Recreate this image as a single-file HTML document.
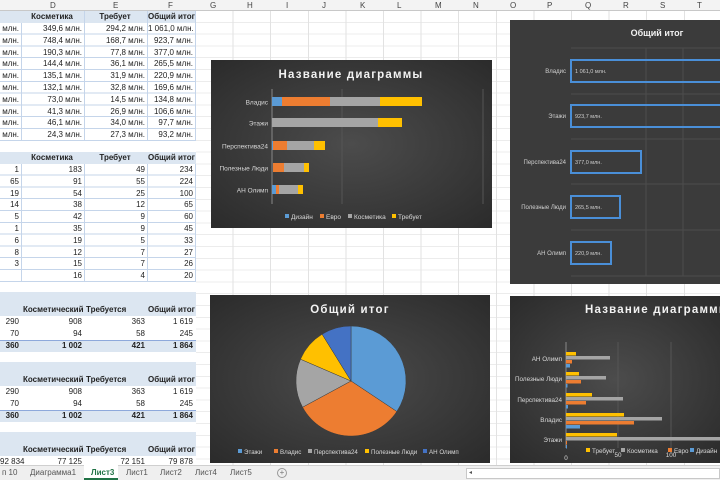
<!DOCTYPE html>
<html><head><meta charset="utf-8"><style>
*{margin:0;padding:0;box-sizing:border-box}
body{width:720px;height:480px;overflow:hidden;position:relative;background:#fff;font-family:"Liberation Sans","DejaVu Sans",sans-serif;font-size:8px;color:#222}
.grid{position:absolute;left:196px;top:11px;width:524px;height:454px;
background-image:repeating-linear-gradient(to right,transparent 0,transparent 36.6px,#e2e2e2 36.6px,#e2e2e2 37.6px),repeating-linear-gradient(to bottom,transparent 0,transparent 10.8px,#ececec 10.8px,#ececec 11.8px)}
.colhdr{position:absolute;left:0;top:0;width:720px;height:11px;background:#f3f3f3;border-bottom:1px solid #c8c8c8}
.colhdr span{position:absolute;top:1px;font-size:8px;color:#444;text-align:center}
.c{position:absolute;height:12px;line-height:12px;text-align:right;white-space:nowrap;padding-right:2px;font-size:8px}
.b{font-weight:bold}
.hb{background:#dce6f1}
.tabs{position:absolute;left:0;top:465px;width:720px;height:15px;background:#efefef;border-top:1px solid #cfcfcf}
.tabs span{position:absolute;top:2px;font-size:8px;color:#555}
.ch{position:absolute;overflow:hidden}
</style></head><body>
<div class="grid"></div>
<div class="colhdr">
<span style="left:50px">D</span><span style="left:113px">E</span><span style="left:168px">F</span>
<span style="left:210px">G</span><span style="left:247px">H</span><span style="left:286px">I</span><span style="left:322px">J</span><span style="left:360px">K</span><span style="left:397px">L</span><span style="left:435px">M</span><span style="left:473px">N</span><span style="left:510px">O</span><span style="left:547px">P</span><span style="left:585px">Q</span><span style="left:623px">R</span><span style="left:660px">S</span><span style="left:697px">T</span>
</div>

<!-- table 1 -->
<div style="position:absolute;left:0;top:11px;width:196px;height:130px;background-image:repeating-linear-gradient(to bottom,transparent 0,transparent 10.8px,#c5d5ea 10.8px,#c5d5ea 11.8px)"></div>
<div style="position:absolute;left:21px;top:11px;width:1px;height:130px;background:#c5d5ea"></div>
<div style="position:absolute;left:84px;top:11px;width:1px;height:130px;background:#c5d5ea"></div>
<div style="position:absolute;left:147px;top:11px;width:1px;height:130px;background:#c5d5ea"></div>
<div style="position:absolute;left:195px;top:11px;width:1px;height:130px;background:#c5d5ea"></div>
<div class="c b" style="left:22px;top:11px;width:62px;text-align:center;background:#dce6f1">Косметика</div>
<div class="c b" style="left:85px;top:11px;width:62px;text-align:center;background:#dce6f1">Требует</div>
<div class="c b" style="left:148px;top:11px;width:47px;text-align:center;background:#dce6f1">Общий итог</div>
<div style="position:absolute;left:0;top:11px;width:22px;height:12px;background:#dce6f1"></div>

<div id="t1"></div>
<div id="t2"></div>

<!-- table 2 -->
<div style="position:absolute;left:0;top:152px;width:196px;height:130px;background-image:repeating-linear-gradient(to bottom,transparent 0,transparent 10.8px,#c5d5ea 10.8px,#c5d5ea 11.8px)"></div>
<div style="position:absolute;left:21px;top:152px;width:1px;height:130px;background:#c5d5ea"></div>
<div style="position:absolute;left:84px;top:152px;width:1px;height:130px;background:#c5d5ea"></div>
<div style="position:absolute;left:147px;top:152px;width:1px;height:130px;background:#c5d5ea"></div>
<div style="position:absolute;left:195px;top:152px;width:1px;height:130px;background:#c5d5ea"></div>
<div style="position:absolute;left:0;top:152px;width:196px;height:12px;background:#dce6f1"></div>
<div class="c b" style="left:22px;top:152px;width:62px;text-align:center">Косметика</div>
<div class="c b" style="left:85px;top:152px;width:62px;text-align:center">Требует</div>
<div class="c b" style="left:148px;top:152px;width:47px;text-align:center">Общий итог</div>

<!-- pivot tables -->
<div style="position:absolute;left:0;top:292px;width:196px;height:24px;background:#dce6f1"></div>
<div style="position:absolute;left:0;top:340px;width:196px;height:12px;background:#dce6f1;border-top:1px solid #8ea9db"></div>
<div style="position:absolute;left:0;top:362px;width:196px;height:24px;background:#dce6f1"></div>
<div style="position:absolute;left:0;top:410px;width:196px;height:12px;background:#dce6f1;border-top:1px solid #8ea9db"></div>
<div style="position:absolute;left:0;top:432px;width:196px;height:24px;background:#dce6f1"></div>

<!-- Chart 1 -->
<svg class="ch" style="left:211px;top:60px" width="281" height="168" viewBox="0 0 281 168">
<defs><radialGradient id="g1" cx="50%" cy="50%" r="70%"><stop offset="0" stop-color="#4c4c4c"/><stop offset="1" stop-color="#2b2b2b"/></radialGradient></defs>
<rect width="281" height="168" fill="url(#g1)"/>
<text x="140" y="18" fill="#f2f2f2" font-size="11.5" font-weight="bold" text-anchor="middle" letter-spacing="1.2" font-family="Liberation Sans">Название диаграммы</text>
<line x1="131" y1="29" x2="131" y2="144" stroke="#555"/><line x1="272" y1="29" x2="272" y2="144" stroke="#555"/>
<line x1="61" y1="29" x2="61" y2="144" stroke="#888"/>
<g font-size="6.5" fill="#d9d9d9" text-anchor="end" font-family="Liberation Sans">
<text x="57" y="44.5">Владис</text><text x="57" y="65.5">Этажи</text><text x="57" y="88.5">Перспектива24</text><text x="57" y="110.5">Полезные Люди</text><text x="57" y="132.5">АН Олимп</text></g>
<g>
<rect x="61" y="37" width="10" height="9" fill="#5b9bd5"/><rect x="71" y="37" width="48" height="9" fill="#ed7d31"/><rect x="119" y="37" width="50" height="9" fill="#a5a5a5"/><rect x="169" y="37" width="42" height="9" fill="#ffc000"/>
<rect x="61" y="58" width="106" height="9" fill="#a5a5a5"/><rect x="167" y="58" width="24" height="9" fill="#ffc000"/>
<rect x="61" y="81" width="1" height="9" fill="#5b9bd5"/><rect x="62" y="81" width="14" height="9" fill="#ed7d31"/><rect x="76" y="81" width="27" height="9" fill="#a5a5a5"/><rect x="103" y="81" width="11" height="9" fill="#ffc000"/>
<rect x="62" y="103" width="11" height="9" fill="#ed7d31"/><rect x="73" y="103" width="20" height="9" fill="#a5a5a5"/><rect x="93" y="103" width="5" height="9" fill="#ffc000"/>
<rect x="61" y="125" width="4" height="9" fill="#5b9bd5"/><rect x="65" y="125" width="3" height="9" fill="#ed7d31"/><rect x="68" y="125" width="19" height="9" fill="#a5a5a5"/><rect x="87" y="125" width="5" height="9" fill="#ffc000"/>
</g>
<g font-size="6.5" fill="#d9d9d9" font-family="Liberation Sans">
<rect x="74" y="154" width="4" height="4" fill="#5b9bd5"/><text x="80" y="159">Дизайн</text>
<rect x="109" y="154" width="4" height="4" fill="#ed7d31"/><text x="115" y="159">Евро</text>
<rect x="137" y="154" width="4" height="4" fill="#a5a5a5"/><text x="143" y="159">Косметика</text>
<rect x="181" y="154" width="4" height="4" fill="#ffc000"/><text x="187" y="159">Требует</text></g>
</svg>

<!-- Chart 2 -->
<svg class="ch" style="left:510px;top:20px" width="210" height="264" viewBox="0 0 210 264">
<rect width="210" height="264" fill="#3b3b3b"/>
<text x="147" y="16" fill="#f2f2f2" font-size="9" font-weight="bold" text-anchor="middle" font-family="Liberation Sans">Общий итог</text>
<g stroke="#4d4d4d"><line x1="136" y1="28" x2="136" y2="256"/><line x1="173" y1="28" x2="173" y2="256"/>
<line x1="61" y1="28" x2="210" y2="28"/><line x1="61" y1="74" x2="210" y2="74"/><line x1="61" y1="119" x2="210" y2="119"/><line x1="61" y1="164" x2="210" y2="164"/><line x1="61" y1="210" x2="210" y2="210"/><line x1="61" y1="256" x2="210" y2="256"/></g>
<g font-size="6" fill="#d0d0d0" text-anchor="end" font-family="Liberation Sans">
<text x="56" y="53">Владис</text><text x="56" y="98">Этажи</text><text x="56" y="144">Перспектива24</text><text x="56" y="189">Полезные Люди</text><text x="56" y="235">АН Олимп</text></g>
<g fill="none" stroke="#4a8fd8" stroke-width="2">
<rect x="61" y="40" width="160" height="22"/><rect x="61" y="85" width="160" height="22"/><rect x="61" y="131" width="70" height="22"/><rect x="61" y="176" width="49" height="22"/><rect x="61" y="222" width="40" height="22"/></g>
<g font-size="5.5" fill="#cfcfcf" font-family="Liberation Sans">
<text x="65" y="53">1 061,0 млн.</text><text x="65" y="98">923,7 млн.</text><text x="65" y="144">377,0 млн.</text><text x="65" y="189">265,5 млн.</text><text x="65" y="235">220,9 млн.</text></g>
</svg>

<!-- Chart 3 pie -->
<svg class="ch" style="left:210px;top:295px" width="280" height="168" viewBox="0 0 280 168">
<defs><radialGradient id="g3" cx="50%" cy="50%" r="70%"><stop offset="0" stop-color="#4c4c4c"/><stop offset="1" stop-color="#2b2b2b"/></radialGradient></defs>
<rect width="280" height="168" fill="url(#g3)"/>
<text x="140" y="18" fill="#f2f2f2" font-size="11.5" font-weight="bold" text-anchor="middle" letter-spacing="1.2" font-family="Liberation Sans">Общий итог</text>
<g transform="translate(-210,-295)" stroke="#3a3a3a" stroke-width="0.5">
<path d="M351,381 L351,326 A55,55 0 0 1 396.8,411.5 Z" fill="#5b9bd5"/>
<path d="M351,381 L396.8,411.5 A55,55 0 0 1 302.6,407.2 Z" fill="#ed7d31"/>
<path d="M351,381 L302.6,407.2 A55,55 0 0 1 300.5,359.2 Z" fill="#a5a5a5"/>
<path d="M351,381 L300.5,359.2 A55,55 0 0 1 322.1,334.2 Z" fill="#ffc000"/>
<path d="M351,381 L322.1,334.2 A55,55 0 0 1 351,326 Z" fill="#4472c4"/>
</g>
<g font-size="6.2" fill="#d9d9d9" font-family="Liberation Sans">
<rect x="28" y="154" width="4" height="4" fill="#5b9bd5"/><text x="34" y="159">Этажи</text>
<rect x="64" y="154" width="4" height="4" fill="#ed7d31"/><text x="70" y="159">Владис</text>
<rect x="98" y="154" width="4" height="4" fill="#a5a5a5"/><text x="104" y="159">Перспектива24</text>
<rect x="155" y="154" width="4" height="4" fill="#ffc000"/><text x="161" y="159">Полезные Люди</text>
<rect x="213" y="154" width="4" height="4" fill="#4472c4"/><text x="219" y="159">АН Олимп</text></g>
</svg>

<!-- Chart 4 -->
<svg class="ch" style="left:510px;top:296px" width="210" height="167" viewBox="0 0 210 167">
<defs><radialGradient id="g4" cx="50%" cy="50%" r="70%"><stop offset="0" stop-color="#4c4c4c"/><stop offset="1" stop-color="#2b2b2b"/></radialGradient></defs>
<rect width="210" height="167" fill="url(#g4)"/>
<text x="75" y="17" fill="#f2f2f2" font-size="11.5" font-weight="bold" letter-spacing="1.2" font-family="Liberation Sans">Название диаграммы</text>
<g stroke="#555"><line x1="108" y1="46" x2="108" y2="152"/><line x1="161" y1="46" x2="161" y2="152"/></g>
<line x1="56" y1="46" x2="56" y2="152" stroke="#888"/>
<g font-size="6.3" fill="#d9d9d9" text-anchor="end" font-family="Liberation Sans">
<text x="52" y="65">АН Олимп</text><text x="52" y="85">Полезные Люди</text><text x="52" y="106">Перспектива24</text><text x="52" y="126">Владис</text><text x="52" y="146">Этажи</text></g>
<g>
<rect x="56" y="56" width="10" height="3.5" fill="#ffc000"/><rect x="56" y="60" width="44" height="3.5" fill="#a5a5a5"/><rect x="56" y="64" width="6" height="3.5" fill="#ed7d31"/><rect x="56" y="68" width="4" height="3.5" fill="#5b9bd5"/>
<rect x="56" y="76" width="13" height="3.5" fill="#ffc000"/><rect x="56" y="80" width="40" height="3.5" fill="#a5a5a5"/><rect x="56" y="84" width="15" height="3.5" fill="#ed7d31"/><rect x="56" y="88" width="1.5" height="3.5" fill="#5b9bd5"/>
<rect x="56" y="97" width="26" height="3.5" fill="#ffc000"/><rect x="56" y="101" width="57" height="3.5" fill="#a5a5a5"/><rect x="56" y="105" width="20" height="3.5" fill="#ed7d31"/><rect x="56" y="109" width="2" height="3.5" fill="#5b9bd5"/>
<rect x="56" y="117" width="58" height="3.5" fill="#ffc000"/><rect x="56" y="121" width="96" height="3.5" fill="#a5a5a5"/><rect x="56" y="125" width="68" height="3.5" fill="#ed7d31"/><rect x="56" y="129" width="14" height="3.5" fill="#5b9bd5"/>
<rect x="56" y="137" width="51" height="3.5" fill="#ffc000"/><rect x="56" y="141" width="160" height="3.5" fill="#a5a5a5"/><rect x="56" y="145" width="1" height="3.5" fill="#ed7d31"/><rect x="56" y="149" width="1" height="3.5" fill="#5b9bd5"/>
</g>
<g font-size="6.3" fill="#d9d9d9" font-family="Liberation Sans">
<rect x="76" y="152" width="4" height="4" fill="#ffc000"/><text x="82" y="157">Требует</text>
<rect x="111" y="152" width="4" height="4" fill="#a5a5a5"/><text x="117" y="157">Косметика</text>
<rect x="158" y="152" width="4" height="4" fill="#ed7d31"/><text x="164" y="157">Евро</text>
<rect x="180" y="152" width="4" height="4" fill="#5b9bd5"/><text x="186" y="157">Дизайн</text>
<text x="56" y="164" text-anchor="middle">0</text><text x="108" y="161" text-anchor="middle">50</text><text x="161" y="161" text-anchor="middle">100</text><text x="210" y="161">1</text></g>
</svg>

<div class="tabs">
<span style="left:2px">п 10</span>
<span style="left:30px">Диаграмма1</span>
<div style="position:absolute;left:84px;top:-1px;width:34px;height:15px;background:#fff;border-bottom:2px solid #217346"></div>
<span style="left:91px;color:#217346;font-weight:bold">Лист3</span>
<span style="left:126px">Лист1</span>
<span style="left:160px">Лист2</span>
<span style="left:195px">Лист4</span>
<span style="left:230px">Лист5</span>
<div style="position:absolute;left:277px;top:2px;width:10px;height:10px;border:1px solid #999;border-radius:50%;font-size:8px;line-height:8px;text-align:center;color:#777">+</div>
<div style="position:absolute;left:466px;top:2px;width:254px;height:11px;background:#fff;border:1px solid #c8c8c8"></div>
<span style="left:469px;top:3px;font-size:6px">◂</span>
</div>

<script>
function put(x,y,w,t,cls){var d=document.createElement('div');d.className='c'+(cls?' '+cls:'');d.style.left=x+'px';d.style.top=y+'px';d.style.width=w+'px';d.textContent=t;document.body.appendChild(d);}
var t1=[["349,6 млн.","294,2 млн.","1 061,0 млн."],["748,4 млн.","168,7 млн.","923,7 млн."],["190,3 млн.","77,8 млн.","377,0 млн."],["144,4 млн.","36,1 млн.","265,5 млн."],["135,1 млн.","31,9 млн.","220,9 млн."],["132,1 млн.","32,8 млн.","169,6 млн."],["73,0 млн.","14,5 млн.","134,8 млн."],["41,3 млн.","26,9 млн.","106,6 млн."],["46,1 млн.","34,0 млн.","97,7 млн."],["24,3 млн.","27,3 млн.","93,2 млн."]];
t1.forEach(function(r,i){var y=23+i*11.8;put(-5,y,26,"млн.");put(22,y,62,r[0]);put(85,y,62,r[1]);put(148,y,47,r[2]);});
var t2=[["1","183","49","234"],["65","91","55","224"],["19","54","25","100"],["14","38","12","65"],["5","42","9","60"],["1","35","9","45"],["6","19","5","33"],["8","12","7","27"],["3","15","7","26"],["","16","4","20"]];
t2.forEach(function(r,i){var y=164+i*11.8;put(0,y,21,r[0]);put(22,y,62,r[1]);put(85,y,62,r[2]);put(148,y,47,r[3]);});
function piv(top,rows){put(22,top,62,"Косметический","b");var h=document.body.lastChild;h.style.textAlign='left';h.style.paddingLeft='1px';
put(85,top,62,"Требуется","b");h=document.body.lastChild;h.style.textAlign='left';h.style.paddingLeft='1px';
put(148,top,47,"Общий итог","b");
rows.forEach(function(r,i){var y=top+12+i*12;var c=r[4]?'b':'';put(0,y,21,r[0],c);put(22,y,62,r[1],c);put(85,y,62,r[2],c);put(148,y,47,r[3],c);});}
piv(304,[["290","908","363","1 619"],["70","94","58","245"],["360","1 002","421","1 864",1]]);
piv(374,[["290","908","363","1 619"],["70","94","58","245"],["360","1 002","421","1 864",1]]);
piv(444,[["92 834","77 125","72 151","79 878"]]);
</script>
</body></html>
